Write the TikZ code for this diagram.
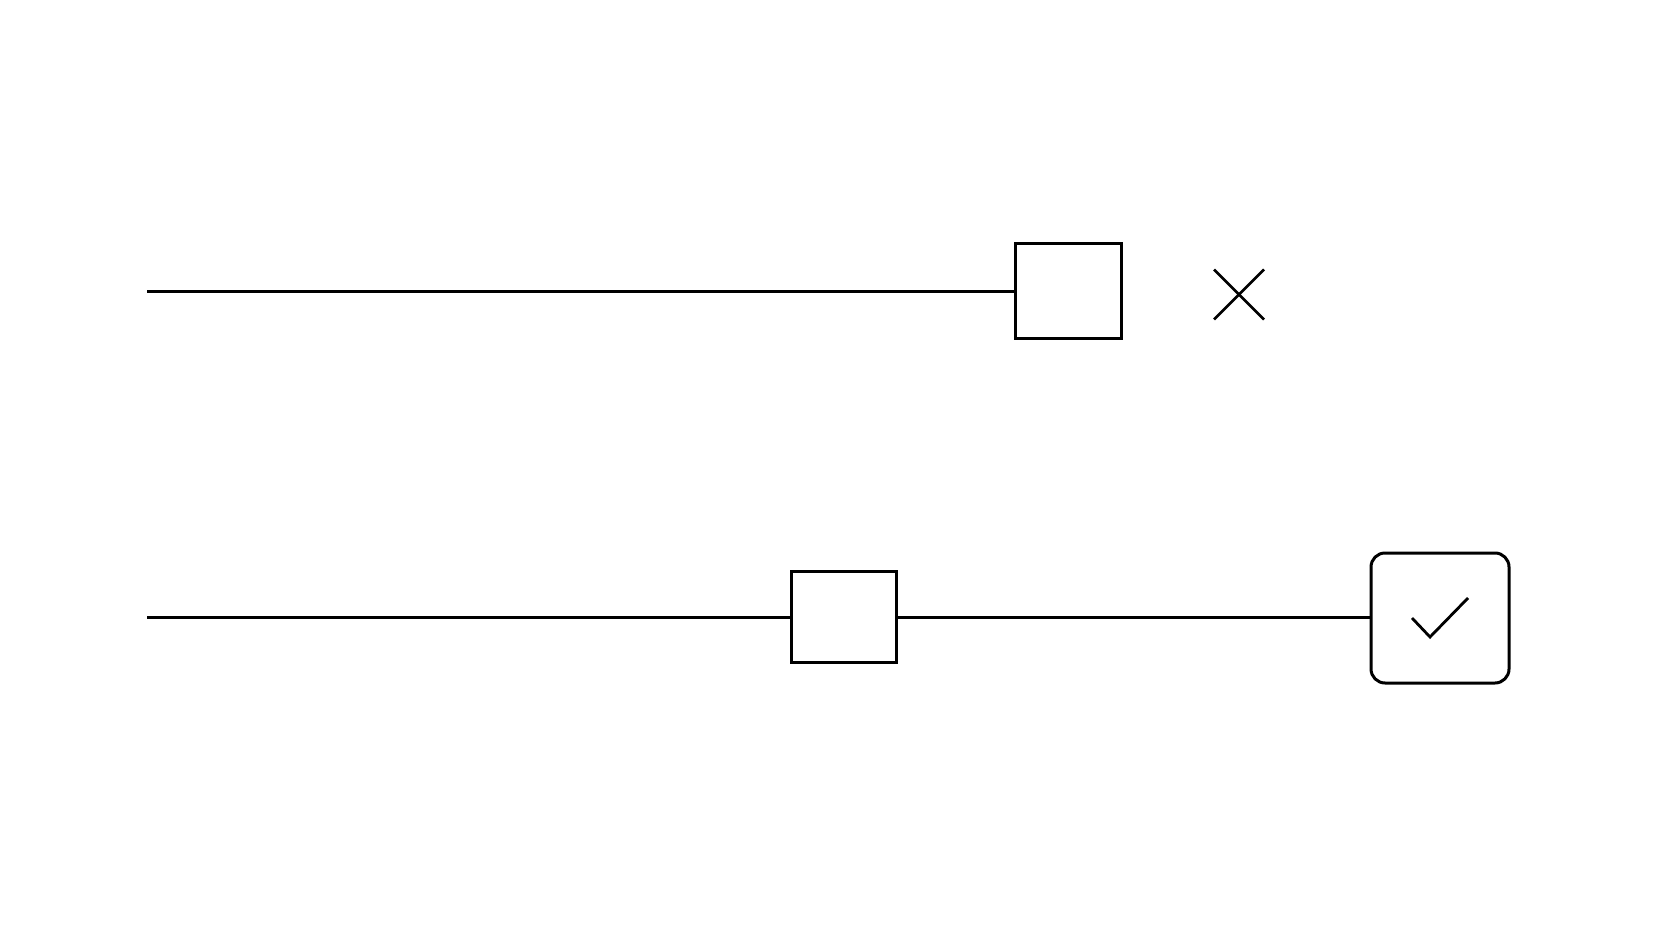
\documentclass[tikz,border=0pt]{standalone}
\usetikzlibrary{calc}
\begin{document}
\begin{tikzpicture}[x=1pt,y=-1pt,
  wire/.style={line width=3pt,black},
  sqbox/.style={draw,line width=3pt,minimum width=106pt,minimum height=95pt,inner sep=0pt,outer sep=0pt,anchor=center},
  endbox/.style={draw,line width=3pt,rounded corners=14pt,minimum width=138pt,minimum height=130pt,inner sep=0pt,outer sep=0pt},
  glyph/.style={line width=2.8pt,black}]
\useasboundingbox[fill=white] (0,0) rectangle (1672,941);
% top row
\coordinate (s1) at (147,291);
\node[sqbox] (b1) at (1068,291) {};
\draw[wire] (s1) -- (b1.west);
\coordinate (xc) at (1239,294.5);
\draw[glyph] ($(xc)+(-25,-25)$) -- ($(xc)+(25,25)$);
\draw[glyph] ($(xc)+(-25,25)$) -- ($(xc)+(25,-25)$);
% bottom row
\coordinate (s2) at (147,617);
\node[sqbox,minimum height=91pt,minimum width=105pt] (b2) at (843.5,617) {};
\node[endbox] (b3) at (1440,618) {};
\draw[wire] (s2) -- (b2.west);
\draw[wire] (b2.east) -- (b3.west |- b2.east);
\draw[glyph] (1412,618) -- (1430,637) -- (1468,598);
\end{tikzpicture}
\end{document}
